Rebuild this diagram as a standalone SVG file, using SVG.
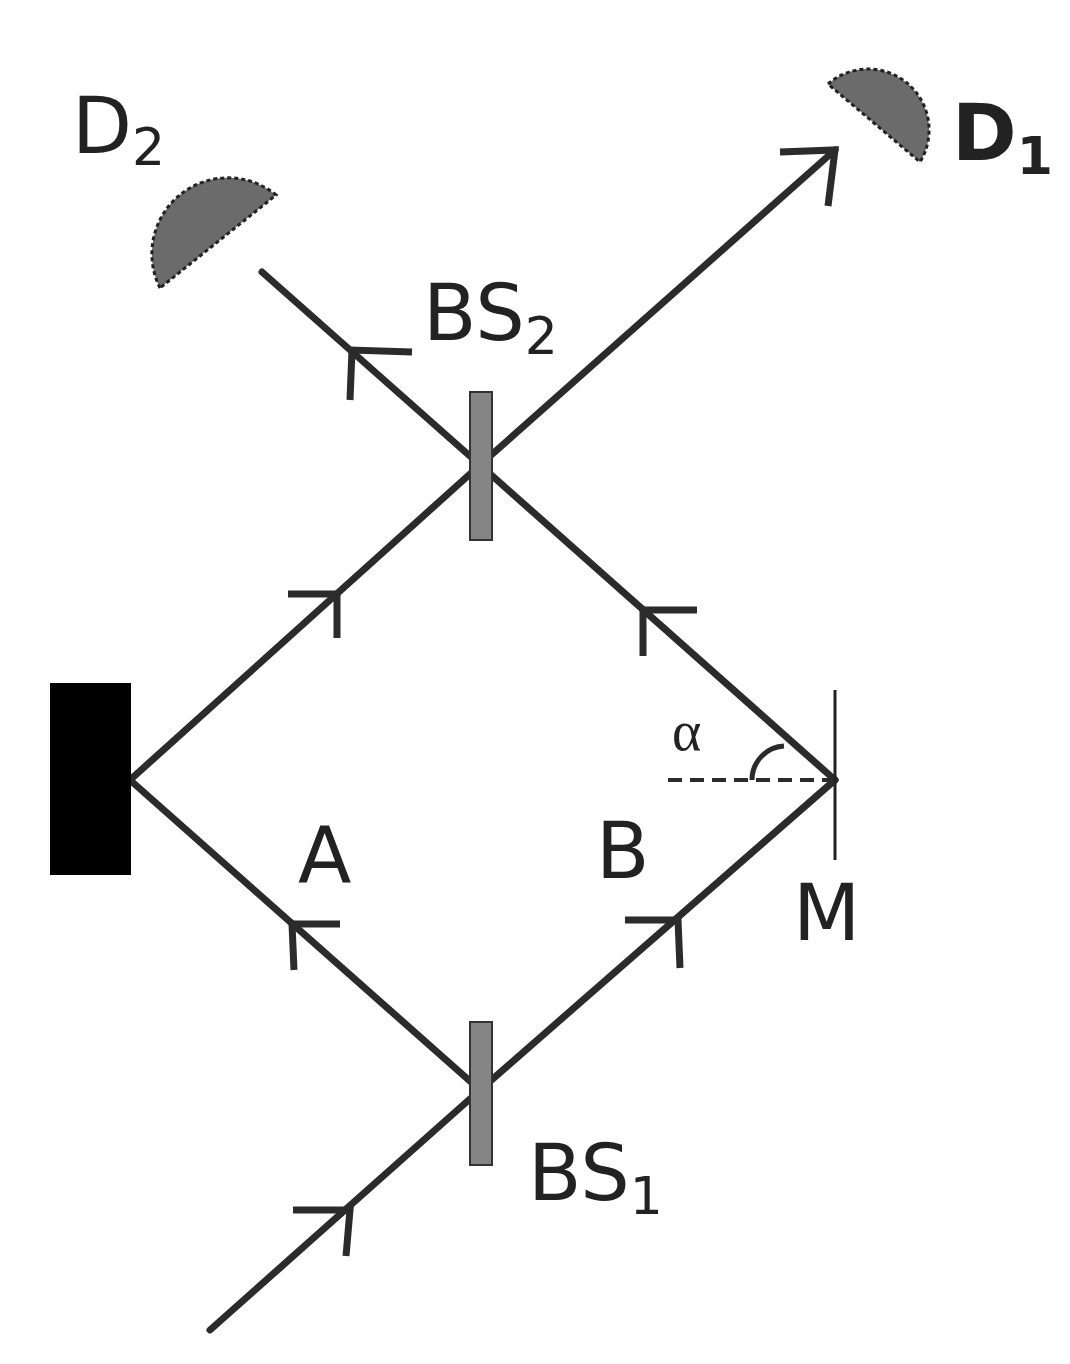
<svg xmlns="http://www.w3.org/2000/svg" width="1070" height="1364" viewBox="0 0 1070 1364">
<style>
.b{stroke:#2b2b2b;stroke-width:7;fill:none;stroke-linecap:round}
.ar{stroke:#2b2b2b;stroke-width:7;fill:none}
.bs{fill:#858585;stroke:#333;stroke-width:2}
.det{fill:#6b6b6b;stroke:#222;stroke-width:3;stroke-dasharray:4 3}
.t{font-family:"DejaVu Sans",sans-serif;font-size:78px;fill:#222}
.s{font-size:52px}
</style>
<rect width="1070" height="1364" fill="#fff"/>
<g id="connectors">
<line class="b" x1="210" y1="1330" x2="480" y2="1090"/>
<line class="b" x1="480" y1="1090" x2="130" y2="780"/>
<line class="b" x1="480" y1="1090" x2="835" y2="780"/>
<line class="b" x1="130" y1="780" x2="480" y2="465"/>
<line class="b" x1="835" y1="780" x2="480" y2="465"/>
<line class="b" x1="480" y1="465" x2="835" y2="150"/>
<line class="b" x1="480" y1="465" x2="262" y2="272"/>
<polyline class="ar" points="293,1210 350,1210 346,1256"/>
<polyline class="ar" points="340,924 292,924 294,970"/>
<polyline class="ar" points="625,920 678,920 680,968"/>
<polyline class="ar" points="288,594 337,594 337,638"/>
<polyline class="ar" points="697,610 643,610 643,656"/>
<polyline class="ar" points="412,352 352,350 350,400"/>
<polyline class="ar" points="780,152 835,150 828,206"/>
<line x1="668" y1="780" x2="835" y2="780" stroke="#2b2b2b" stroke-width="4" stroke-dasharray="14 8"/>
<path d="M752,780 A34,34 0 0 1 784,746" stroke="#2b2b2b" stroke-width="5" fill="none"/>
</g>
<g id="source"><rect x="50" y="683" width="81" height="192" fill="#000"/></g>
<g id="BS1"><rect class="bs" x="470" y="1022" width="22" height="143"/><text class="t" x="528" y="1200">BS<tspan class="s" dy="14">1</tspan></text></g>
<g id="BS2"><rect class="bs" x="470" y="392" width="22" height="148"/><text class="t" x="423" y="340">BS<tspan class="s" dy="14">2</tspan></text></g>
<g id="M"><line x1="835" y1="690" x2="835" y2="860" stroke="#222" stroke-width="3"/><text class="t" x="793" y="940">M</text></g>
<g id="D2"><path class="det" d="M160,288 A76,76 0 0 1 276,195 Z"/><text class="t" x="72" y="153">D<tspan class="s" dy="12">2</tspan></text></g>
<g id="D1"><path class="det" d="M828,84 A61,61 0 0 1 920,162 Z"/><text class="t" x="952" y="160" font-weight="bold" fill="#000">D<tspan class="s" dy="14">1</tspan></text></g>
<text class="t" x="298" y="883">A</text>
<text class="t" x="596" y="878">B</text>
<text x="672" y="750" font-family="Liberation Serif,serif" font-size="56" fill="#222">α</text>
</svg>
